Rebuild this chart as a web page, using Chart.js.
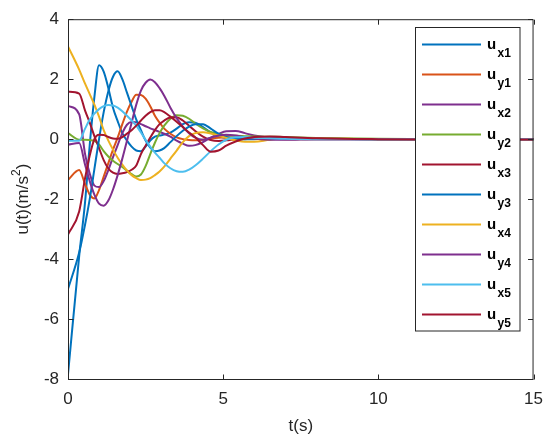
<!DOCTYPE html>
<html>
<head>
<meta charset="utf-8">
<script src="https://cdn.jsdelivr.net/npm/chart.js@4.4.0/dist/chart.umd.min.js"></script>
<style>
  html, body { margin: 0; padding: 0; background: #fff; }
</style>
</head>
<body>
<canvas id="uChart" width="553" height="437"></canvas>
<script>
// time samples (s)
const times = [0, 0.36, 0.55, 0.7, 0.85, 1.0, 1.15, 1.3, 1.45, 1.6, 1.75, 1.9, 2.05, 2.2, 2.35, 2.5, 2.65, 2.8, 2.95, 3.1,
  3.3, 3.5, 3.7, 3.9, 4.1, 4.35, 4.6, 4.85, 5.1, 5.4, 5.7, 6.0, 6.5, 7.0, 8, 10, 12, 15]

// control inputs u(t)
const ux1 = [-7.85, -3.9, -2.1, -0.2, 1.4, 2.46, 2.25, 1.7, 1.05, 0.6, 0.2, -0.05, -0.25, -0.38, -0.4, -0.25, -0.05, 0.08, 0.12, 0.15,
  0.22, 0.35, 0.5, 0.56, 0.55, 0.4, 0.22, 0.1, 0.03, 0.0, 0.0, 0.02, 0.03, 0.02, 0.01, 0, 0, 0]
const uy1 = [-1.36, -1.03, -1.5, -1.85, -1.98, -1.7, -1.25, -0.8, -0.35, 0.05, 0.5, 0.92, 1.25, 1.48, 1.47, 1.35, 1.1, 0.78, 0.55, 0.35,
  0.18, 0.06, 0.0, -0.03, -0.04, -0.02, 0.02, 0.05, 0.06, 0.05, 0.04, 0.03, 0.01, 0.0, 0, 0, 0, 0]
const ux2 = [1.11, 0.83, -0.5, -1.15, -1.55, -1.6, -1.4, -1.03, -0.6, -0.2, 0.2, 0.48, 0.57, 0.56, 0.5, 0.43, 0.36, 0.3, 0.24, 0.18,
  0.08, -0.05, -0.15, -0.22, -0.2, -0.1, 0.05, 0.17, 0.26, 0.27, 0.2, 0.12, 0.05, 0.02, 0.0, 0, 0, 0]
const uy2 = [0.2, -0.02, -0.02, -0.03, -0.06, -0.18, -0.4, -0.58, -0.72, -0.83, -0.93, -1.05, -1.17, -1.25, -1.18, -0.9, -0.5, -0.12, 0.2, 0.45,
  0.68, 0.8, 0.78, 0.68, 0.52, 0.36, 0.24, 0.17, 0.13, 0.11, 0.1, 0.09, 0.08, 0.07, 0.04, 0.01, 0, 0]
const ux3 = [1.58, 1.52, 0.95, 0.55, 0.1, -0.3, -0.7, -0.98, -1.12, -1.16, -1.14, -1.1, -1.02, -0.88, -0.5, -0.22, 0.05, 0.3, 0.5, 0.62,
  0.72, 0.73, 0.62, 0.45, 0.27, 0.08, -0.03, -0.06, -0.04, 0.0, 0.03, 0.05, 0.05, 0.04, 0.02, 0, 0, 0]
const uy3 = [-5.0, -3.78, -2.85, -2.0, -1.0, 0.0, 0.9, 1.6, 2.08, 2.26, 2.0, 1.55, 1.1, 0.65, 0.3, -0.05, -0.28, -0.4, -0.38, -0.3,
  -0.1, 0.1, 0.28, 0.42, 0.5, 0.5, 0.35, 0.18, 0.07, 0.02, 0.0, 0.0, 0.02, 0.02, 0.01, 0, 0, 0]
const ux4 = [3.09, 2.32, 1.85, 1.5, 1.15, 0.75, 0.3, -0.05, -0.35, -0.62, -0.85, -1.05, -1.2, -1.3, -1.36, -1.35, -1.3, -1.2, -1.08, -0.92,
  -0.65, -0.38, -0.1, 0.1, 0.2, 0.23, 0.19, 0.12, 0.04, -0.04, -0.09, -0.09, -0.02, 0.02, 0.02, 0, 0, 0]
const uy4 = [-0.18, -0.13, -0.85, -1.4, -1.85, -2.15, -2.22, -2.05, -1.68, -1.2, -0.65, -0.05, 0.55, 1.15, 1.62, 1.88, 1.99, 1.9, 1.7, 1.45,
  1.05, 0.7, 0.42, 0.2, 0.05, -0.02, 0.05, 0.12, 0.15, 0.12, 0.06, 0.02, -0.02, -0.02, 0.0, 0, 0, 0]
const ux5 = [-0.05, -0.05, 0.35, 0.65, 0.85, 1.0, 1.1, 1.14, 1.12, 1.05, 0.93, 0.78, 0.62, 0.45, 0.22, -0.02, -0.25, -0.45, -0.62, -0.8,
  -0.97, -1.07, -1.09, -1.02, -0.88, -0.65, -0.4, -0.18, -0.02, 0.06, 0.07, 0.05, 0.03, 0.01, 0, 0, 0, 0]
const uy5 = [-3.18, -2.41, -1.3, -0.55, 0.0, 0.15, 0.14, 0.07, 0.02, 0.01, 0.07, 0.18, 0.3, 0.45, 0.62, 0.78, 0.9, 0.96, 0.96, 0.9,
  0.75, 0.58, 0.4, 0.22, 0.06, -0.2, -0.42, -0.38, -0.22, -0.08, 0.02, 0.07, 0.09, 0.07, 0.03, 0.0, -0.01, -0.01]

const series = [ux1, uy1, ux2, uy2, ux3, uy3, ux4, uy4, ux5, uy5]
const subLabels = ['x1', 'y1', 'x2', 'y2', 'x3', 'y3', 'x4', 'y4', 'x5', 'y5']
const colors = ['#0072BD', '#D95319', '#7E2F8E', '#77AC30', '#A2142F', '#0072BD', '#EDB120', '#7E2F8E', '#4DBEEE', '#A2142F']

const xTicks = [0, 5, 10, 15]
const yTicks = [-8, -6, -4, -2, 0, 2, 4]

const FONT = '"Liberation Sans", Arial, Helvetica, sans-serif'
const INK = '#262626'

// matlab style box, inward ticks, y label with superscript, legend with subscripts
const matlabFrame = {
    id: 'matlabFrame',
    afterDraw(chart) {
        const { ctx, chartArea: a, scales: { x, y } } = chart
        ctx.save()
        ctx.strokeStyle = INK
        ctx.lineWidth = 1
        const L = a.left + 0.5, R = a.right - 0.5, T = a.top + 0.5, B = a.bottom + 0.5
        ctx.strokeRect(L, T, R - L, B - T)

        const tl = 5
        ctx.beginPath()
        xTicks.forEach(v => {
            const px = Math.round(x.getPixelForValue(v)) + 0.5
            ctx.moveTo(px, B); ctx.lineTo(px, B - tl)
            ctx.moveTo(px, T); ctx.lineTo(px, T + tl)
        })
        yTicks.forEach(v => {
            const py = Math.round(y.getPixelForValue(v)) + 0.5
            ctx.moveTo(L, py); ctx.lineTo(L + tl, py)
            ctx.moveTo(R, py); ctx.lineTo(R - tl, py)
        })
        ctx.stroke()

        // y axis title
        ctx.save()
        ctx.translate(0, (a.top + a.bottom) / 2)
        ctx.rotate(-Math.PI / 2)
        ctx.fillStyle = INK
        ctx.textBaseline = 'alphabetic'
        ctx.font = '17px ' + FONT
        const main = 'u(t)(m/s', end = ')'
        const w1 = ctx.measureText(main).width
        const w3 = ctx.measureText(end).width
        ctx.font = '12px ' + FONT
        const w2 = ctx.measureText('2').width
        let sx = -(w1 + w2 + w3) / 2
        ctx.font = '17px ' + FONT
        ctx.fillText(main, sx, 28)
        ctx.font = '12px ' + FONT
        ctx.fillText('2', sx + w1, 20)
        ctx.font = '17px ' + FONT
        ctx.fillText(end, sx + w1 + w2, 28)
        ctx.restore()

        // legend
        const bx = 415.5, by = 27.5, bw = 104.5, bh = 303.5
        ctx.fillStyle = '#fff'
        ctx.fillRect(bx, by, bw, bh)
        ctx.strokeStyle = INK
        ctx.lineWidth = 1
        ctx.strokeRect(bx, by, bw, bh)
        chart.data.datasets.forEach((ds, i) => {
            const ry = 44.5 + i * 30
            ctx.strokeStyle = ds.borderColor
            ctx.lineWidth = 2
            ctx.beginPath()
            ctx.moveTo(422, ry); ctx.lineTo(481, ry)
            ctx.stroke()
            ctx.fillStyle = '#000'
            ctx.font = 'bold 15px ' + FONT
            ctx.fillText('u', 487, ry + 4)
            ctx.font = 'bold 12px ' + FONT
            ctx.fillText(subLabels[i], 497.5, ry + 12.5)
        })
        ctx.restore()
    }
}

const ctx = document.getElementById('uChart').getContext('2d')

new Chart(ctx, {
    type: 'line',
    data: {
        datasets: series.map((vals, i) => ({
            label: 'u' + subLabels[i],
            data: vals.map((v, k) => ({ x: times[k], y: v })),
            borderColor: colors[i],
            borderWidth: 2,
            pointRadius: 0,
            cubicInterpolationMode: 'monotone',
            fill: false,
            order: series.length - i,
        })),
    },
    options: {
        responsive: false,
        animation: false,
        layout: { padding: { left: 0, top: 14, right: 16, bottom: 0 } },
        plugins: {
            legend: { display: false },
            tooltip: { enabled: false },
        },
        scales: {
            x: {
                type: 'linear',
                min: 0,
                max: 15,
                afterBuildTicks: s => { s.ticks = xTicks.map(v => ({ value: v })) },
                afterFit: s => { s.height = 58 },
                grid: { display: false, drawTicks: false },
                border: { display: false },
                ticks: { color: INK, font: { family: FONT, size: 17 }, padding: 10, maxRotation: 0 },
                title: { display: true, text: 't(s)', color: INK, font: { family: FONT, size: 17 }, padding: { top: 0, bottom: 0 } },
            },
            y: {
                type: 'linear',
                min: -8,
                max: 4,
                afterBuildTicks: s => { s.ticks = yTicks.map(v => ({ value: v })) },
                afterFit: s => { s.width = 68 },
                grid: { display: false, drawTicks: false },
                border: { display: false },
                ticks: { color: INK, font: { family: FONT, size: 17 }, padding: 9 },
            },
        },
    },
    plugins: [matlabFrame],
})
</script>
</body>
</html>
